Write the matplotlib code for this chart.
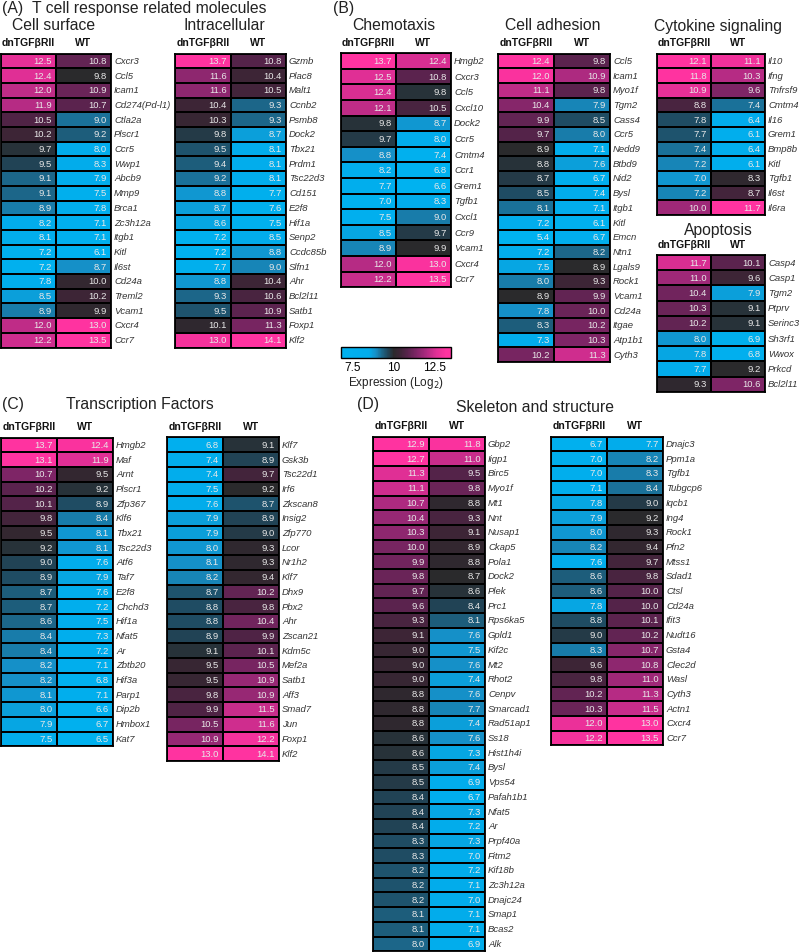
import numpy as np
import matplotlib
matplotlib.use('Agg')
import matplotlib.pyplot as plt
from matplotlib.colors import LinearSegmentedColormap, Normalize
from matplotlib.cm import ScalarMappable

plt.rcParams['font.family'] = ['Liberation Sans', 'DejaVu Sans']

# ---------------- data ----------------
cs_genes = ['Cxcr3', 'Ccl5', 'Icam1', 'Cd274(Pd-l1)', 'Ctla2a', 'Plscr1', 'Ccr5', 'Wwp1', 'Abcb9', 'Mmp9',
            'Brca1', 'Zc3h12a', 'Itgb1', 'Kitl', 'Il6st', 'Cd24a', 'Treml2', 'Vcam1', 'Cxcr4', 'Ccr7']
cs_dn = [12.5, 12.4, 12.0, 11.9, 10.5, 10.2, 9.7, 9.5, 9.1, 9.1, 8.9, 8.2, 8.1, 7.2, 7.2, 7.8, 8.5, 8.9, 12.0, 12.2]
cs_wt = [10.8, 9.8, 10.9, 10.7, 9.0, 9.2, 8.0, 8.3, 7.9, 7.5, 7.8, 7.1, 7.1, 6.1, 8.7, 10.0, 10.2, 9.9, 13.0, 13.5]

ic_genes = ['Gzmb', 'Plac8', 'Malt1', 'Ccnb2', 'Psmb8', 'Dock2', 'Tbx21', 'Prdm1', 'Tsc22d3', 'Cd151',
            'E2f8', 'Hif1a', 'Senp2', 'Ccdc85b', 'Slfn1', 'Ahr', 'Bcl2l11', 'Satb1', 'Foxp1', 'Klf2']
ic_dn = [13.7, 11.6, 11.6, 10.4, 10.3, 9.8, 9.5, 9.4, 9.2, 8.8, 8.7, 8.6, 7.2, 7.2, 7.7, 8.8, 9.3, 9.5, 10.1, 13.0]
ic_wt = [10.8, 10.4, 10.5, 9.3, 9.3, 8.7, 8.1, 8.1, 8.1, 7.7, 7.6, 7.5, 8.5, 8.8, 9.0, 10.4, 10.6, 10.9, 11.3, 14.1]

ch_genes = ['Hmgb2', 'Cxcr3', 'Ccl5', 'Cxcl10', 'Dock2', 'Ccr5', 'Cmtm4', 'Ccr1', 'Grem1', 'Tgfb1',
            'Cxcl1', 'Ccr9', 'Vcam1', 'Cxcr4', 'Ccr7']
ch_dn = [13.7, 12.5, 12.4, 12.1, 9.8, 9.7, 8.8, 8.2, 7.7, 7.0, 7.5, 8.5, 8.9, 12.0, 12.2]
ch_wt = [12.4, 10.8, 9.8, 10.5, 8.7, 8.0, 7.4, 6.8, 6.6, 8.3, 9.0, 9.7, 9.9, 13.0, 13.5]

ca_genes = ['Ccl5', 'Icam1', 'Myo1f', 'Tgm2', 'Cass4', 'Ccr5', 'Nedd9', 'Btbd9', 'Nid2', 'Bysl', 'Itgb1',
            'Kitl', 'Emcn', 'Ntn1', 'Lgals9', 'Rock1', 'Vcam1', 'Cd24a', 'Itgae', 'Atp1b1', 'Cyth3']
ca_dn = [12.4, 12.0, 11.1, 10.4, 9.9, 9.7, 8.9, 8.8, 8.7, 8.5, 8.1, 7.2, 5.4, 7.2, 7.5, 8.0, 8.9, 7.8, 8.3, 7.3, 10.2]
ca_wt = [9.8, 10.9, 9.8, 7.9, 8.5, 8.0, 7.1, 7.6, 6.7, 7.4, 7.1, 6.1, 6.7, 8.2, 8.9, 9.3, 9.9, 10.0, 10.2, 10.3, 11.3]

cy_genes = ['Il10', 'Ifng', 'Tnfrsf9', 'Cmtm4', 'Il16', 'Grem1', 'Bmp8b', 'Kitl', 'Tgfb1', 'Il6st', 'Il6ra']
cy_dn = [12.1, 11.8, 10.9, 8.8, 7.8, 7.7, 7.4, 7.2, 7.0, 7.2, 10.0]
cy_wt = [11.1, 10.3, 9.6, 7.4, 6.4, 6.1, 6.4, 6.1, 8.3, 8.7, 11.7]

ap_genes = ['Casp4', 'Casp1', 'Tgm2', 'Ptprv', 'Serinc3', 'Sh3rf1', 'Wwox', 'Prkcd', 'Bcl2l11']
ap_dn = [11.7, 11.0, 10.4, 10.3, 10.2, 8.0, 7.8, 7.7, 9.3]
ap_wt = [10.1, 9.6, 7.9, 9.1, 9.1, 6.9, 6.8, 9.2, 10.6]

tf1_genes = ['Hmgb2', 'Maf', 'Arnt', 'Plscr1', 'Zfp367', 'Klf6', 'Tbx21', 'Tsc22d3', 'Atf6', 'Taf7', 'E2f8',
             'Chchd3', 'Hif1a', 'Nfat5', 'Ar', 'Zbtb20', 'Hif3a', 'Parp1', 'Dip2b', 'Hmbox1', 'Kat7']
tf1_dn = [13.7, 13.1, 10.7, 10.2, 10.1, 9.8, 9.5, 9.2, 9.0, 8.9, 8.7, 8.7, 8.6, 8.4, 8.4, 8.2, 8.2, 8.1, 8.0, 7.9, 7.5]
tf1_wt = [12.4, 11.9, 9.5, 9.2, 8.9, 8.4, 8.1, 8.1, 7.6, 7.9, 7.6, 7.2, 7.5, 7.3, 7.2, 7.1, 6.8, 7.1, 6.6, 6.7, 6.5]

tf2_genes = ['Klf7', 'Gsk3b', 'Tsc22d1', 'Irf6', 'Zkscan8', 'Insig2', 'Zfp770', 'Lcor', 'Nr1h2', 'Klf7', 'Dhx9',
             'Pbx2', 'Ahr', 'Zscan21', 'Kdm5c', 'Mef2a', 'Satb1', 'Aff3', 'Smad7', 'Jun', 'Foxp1', 'Klf2']
tf2_dn = [6.8, 7.4, 7.4, 7.5, 7.6, 7.9, 7.9, 8.0, 8.1, 8.2, 8.7, 8.8, 8.8, 8.9, 9.1, 9.5, 9.5, 9.8, 9.9, 10.5, 10.9, 13.0]
tf2_wt = [9.1, 8.9, 9.7, 9.2, 8.7, 8.9, 9.0, 9.3, 9.3, 9.4, 10.2, 9.8, 10.4, 9.9, 10.1, 10.5, 10.9, 10.9, 11.5, 11.6, 12.2, 14.1]

sk1_genes = ['Gbp2', 'Iigp1', 'Birc5', 'Myo1f', 'Mt1', 'Nnt', 'Nusap1', 'Ckap5', 'Pola1', 'Dock2', 'Plek',
             'Prc1', 'Rps6ka5', 'Gpld1', 'Kif2c', 'Mt2', 'Rhot2', 'Cenpv', 'Smarcad1', 'Rad51ap1', 'Ss18',
             'Hist1h4i', 'Bysl', 'Vps54', 'Pafah1b1', 'Nfat5', 'Ar', 'Prpf40a', 'Fitm2', 'Kif18b', 'Zc3h12a',
             'Dnajc24', 'Smap1', 'Bcas2', 'Alk']
sk1_dn = [12.9, 12.7, 11.3, 11.1, 10.7, 10.4, 10.3, 10.0, 9.9, 9.8, 9.7, 9.6, 9.3, 9.1, 9.0, 9.0, 9.0, 8.8,
          8.8, 8.8, 8.6, 8.6, 8.5, 8.5, 8.4, 8.4, 8.4, 8.3, 8.3, 8.2, 8.2, 8.2, 8.1, 8.1, 8.0]
sk1_wt = [11.8, 11.0, 9.5, 9.8, 8.8, 9.3, 9.1, 8.9, 8.8, 8.7, 8.6, 8.4, 8.1, 7.6, 7.5, 7.6, 7.4, 7.6,
          7.7, 7.4, 7.6, 7.3, 7.4, 6.9, 6.7, 7.3, 7.2, 7.3, 7.0, 7.2, 7.1, 7.0, 7.1, 7.1, 6.9]

sk2_genes = ['Dnajc3', 'Ppm1a', 'Tgfb1', 'Tubgcp6', 'Iqcb1', 'Ing4', 'Rock1', 'Pfn2', 'Mtss1', 'Sdad1', 'Ctsl',
             'Cd24a', 'Ifit3', 'Nudt16', 'Gsta4', 'Clec2d', 'Wasl', 'Cyth3', 'Actn1', 'Cxcr4', 'Ccr7']
sk2_dn = [6.7, 7.0, 7.0, 7.1, 7.8, 7.9, 8.0, 8.2, 7.6, 8.6, 8.6, 7.8, 8.8, 9.0, 8.3, 9.6, 9.8, 10.2, 10.3, 12.0, 12.2]
sk2_wt = [7.7, 8.2, 8.3, 8.4, 9.0, 9.2, 9.3, 9.4, 9.7, 9.8, 10.0, 10.0, 10.1, 10.2, 10.7, 10.8, 11.0, 11.3, 11.5, 13.0, 13.5]

cbar_ticks = [7.5, 10, 12.5]
cbar_ticklabels = ['7.5', '10', '12.5']
col_labels = ['dnTGFβRII', 'WT']

# ---------------- styling ----------------
W, H = 800, 952
fig = plt.figure(figsize=(8, 9.52), dpi=100)

CENTER = 10.0
LO, HI = -3.2, 3.5
offs = [(-3.2, '#00b2f0'), (-1.5, '#02aceb'), (-1.1, '#1590c8'), (-0.7, '#1c6688'), (-0.35, '#20465a'),
        (0.0, '#2a2a2c'), (0.35, '#3a2534'), (0.8, '#542349'), (1.4, '#7e2566'), (2.0, '#ad2a80'),
        (2.6, '#e02f95'), (3.2, '#ff33a0'), (3.5, '#ff33a0')]
cmap = LinearSegmentedColormap.from_list('expr', [((o - LO) / (HI - LO), c) for o, c in offs])
norm = Normalize(CENTER + LO, CENTER + HI)


def ftext(x, y, s, **kw):
    return fig.text(x / W, 1 - y / H, s, **kw)


def heat(x0, y0, colw, rowh, genes, dn, wt, center=CENTER):
    n = len(genes)
    ax = fig.add_axes([x0 / W, 1 - (y0 + n * rowh) / H, 2 * colw / W, n * rowh / H])
    data = np.column_stack([dn, wt])
    pnorm = Normalize(center + LO, center + HI)
    ax.pcolormesh(np.arange(3), np.arange(n + 1), data, cmap=cmap, norm=pnorm,
                  edgecolors='black', linewidth=1.3)
    ax.set_xlim(0, 2)
    ax.set_ylim(n, 0)
    ax.set_xticks([])
    ax.set_yticks([])
    for s in ax.spines.values():
        s.set_linewidth(1.3)
    for i in range(n):
        yc = y0 + (i + 0.5) * rowh + 0.5
        for j, v in enumerate((dn[i], wt[i])):
            ftext(x0 + (j + 1) * colw - 4, yc, f'{v:.1f}', ha='right', va='center',
                  color='#e8e8e8', fontsize=6.8)
        ftext(x0 + 2 * colw + 3, yc, genes[i], ha='left', va='center', style='italic',
              fontsize=6.8, color='#333333')
    for j, lab in enumerate(col_labels):
        ftext(x0 + (j + 0.5) * colw, y0 - 10.5, lab, ha='center', va='center',
              fontsize=7.5, fontweight='bold', color='#111111')
    return ax


TITLE = dict(fontsize=11.3, color='#222222', va='center')

# Panel A
ftext(2, 9, '(A)', ha='left', **TITLE)
ftext(32, 9, 'T cell response related molecules', ha='left', **TITLE)
ftext(54, 26, 'Cell surface', ha='center', **TITLE)
ftext(224, 26, 'Intracellular', ha='center', **TITLE)
heat(1, 53.5, 55, 14.7, cs_genes, cs_dn, cs_wt, center=9.8)
heat(175, 53.5, 55.5, 14.7, ic_genes, ic_dn, ic_wt, center=10.0)

# Panel B
ftext(333, 9, '(B)', ha='left', **TITLE)
ftext(394, 26, 'Chemotaxis', ha='center', **TITLE)
heat(341, 53.2, 55, 15.6, ch_genes, ch_dn, ch_wt, center=9.9)
ftext(553, 26, 'Cell adhesion', ha='center', **TITLE)
heat(498, 53.5, 56, 14.7, ca_genes, ca_dn, ca_wt, center=8.9)
ftext(718, 26, 'Cytokine signaling', ha='center', **TITLE)
heat(657, 53.5, 54, 14.7, cy_genes, cy_dn, cy_wt, center=8.2)
ftext(718, 230, 'Apoptosis', ha='center', **TITLE)
heat(657, 255, 54, 15.2, ap_genes, ap_dn, ap_wt, center=9.2)

# colorbar
cax = fig.add_axes([341 / W, 1 - 358 / H, 110 / W, 11 / H])
cb = fig.colorbar(ScalarMappable(norm=norm, cmap=cmap), cax=cax, orientation='horizontal',
                  ticks=cbar_ticks)
cb.set_ticklabels(cbar_ticklabels)
cb.ax.tick_params(length=0, labelsize=8.5, pad=3)
cb.outline.set_linewidth(1.0)
ftext(396, 383, 'Expression (Log$_2$)', ha='center', va='center', fontsize=8.5, color='#222222')

# Panel C
ftext(2, 404, '(C)', ha='left', **TITLE)
ftext(140, 405, 'Transcription Factors', ha='center', **TITLE)
heat(1, 437.5, 56, 14.7, tf1_genes, tf1_dn, tf1_wt, center=9.3)
heat(167, 437.5, 56, 14.7, tf2_genes, tf2_dn, tf2_wt, center=9.2)

# Panel D
ftext(357, 405, '(D)', ha='left', **TITLE)
ftext(535, 407, 'Skeleton and structure', ha='center', **TITLE)
heat(373, 436.7, 56, 14.7, sk1_genes, sk1_dn, sk1_wt, center=8.7)
heat(551, 436.7, 56, 14.7, sk2_genes, sk2_dn, sk2_wt, center=9.2)

fig.savefig('out.png', dpi=100)
